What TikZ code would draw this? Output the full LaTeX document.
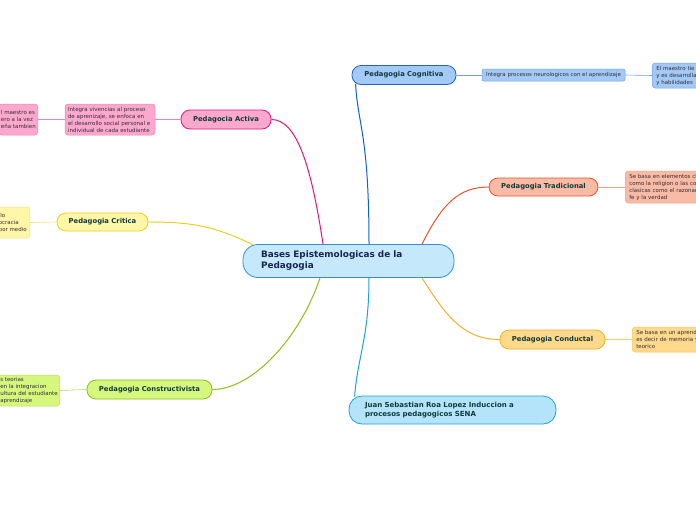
\documentclass[tikz,border=0pt]{standalone}
\usepackage{fontspec}
\setmainfont{DejaVu Sans}
\usetikzlibrary{positioning}
\definecolor{topictext}{RGB}{18,58,58}
\definecolor{leaftext}{RGB}{55,45,50}
\definecolor{ctrfill}{RGB}{197,233,250}
\definecolor{ctrdraw}{RGB}{47,143,216}
\definecolor{ctrtext}{RGB}{26,36,80}
\definecolor{cogfill}{RGB}{163,201,247}
\definecolor{cogdraw}{RGB}{37,98,200}
\definecolor{cogline}{RGB}{16,96,208}
\definecolor{cogleaf}{RGB}{111,160,232}
\definecolor{tradfill}{RGB}{249,187,166}
\definecolor{traddraw}{RGB}{232,82,42}
\definecolor{tradleaf}{RGB}{245,160,128}
\definecolor{condfill}{RGB}{253,217,140}
\definecolor{conddraw}{RGB}{242,177,42}
\definecolor{condleaf}{RGB}{247,200,96}
\definecolor{juanfill}{RGB}{179,228,250}
\definecolor{juandraw}{RGB}{32,160,224}
\definecolor{actfill}{RGB}{251,168,207}
\definecolor{actdraw}{RGB}{226,22,122}
\definecolor{actleaf}{RGB}{245,128,184}
\definecolor{critfill}{RGB}{255,246,168}
\definecolor{critdraw}{RGB}{230,210,28}
\definecolor{critleaf}{RGB}{240,226,122}
\definecolor{consfill}{RGB}{213,247,126}
\definecolor{consdraw}{RGB}{140,190,26}
\definecolor{consleaf}{RGB}{176,220,96}

\begin{document}
\begin{tikzpicture}[x=1pt, y=-1pt,
    topic/.style={draw, line width=0.8pt, rounded corners=9pt, minimum height=19pt, inner xsep=3pt,
        font=\fontsize{6.8}{8}\selectfont\bfseries, text=topictext},
    leaf/.style={draw, line width=0.5pt, rounded corners=3pt, inner xsep=4pt, inner ysep=2pt,
        font=\fontsize{5.5}{7}\selectfont, align=left, text=leaftext},
    link/.style={line width=1pt},
    twig/.style={line width=0.6pt}
]
    \useasboundingbox (0,0) rectangle (696,520);
    \fill[white] (0,0) rectangle (696,520);
    \clip (0,0) rectangle (696,520);

    % main topic
    \node[draw=ctrdraw, fill=ctrfill, line width=0.8pt, rounded corners=15pt, minimum height=33pt,
        text width=175pt, inner xsep=18pt, align=left, text=ctrtext,
        font=\fontsize{8.9}{11}\selectfont\bfseries] (ctr) at (348.5,261)
        {Bases Epistemologicas de la\\Pedagogia};

    % right side
    \node[topic, draw=cogdraw, fill=cogfill, minimum width=104pt] (cog) at (404,75) {Pedagogia Cognitiva};
    \node[leaf, draw=cogleaf, fill=cogfill, minimum width=143pt, minimum height=12pt, rounded corners=2pt,
        inner xsep=2pt, font=\fontsize{5.5}{6}\selectfont] (cogA) at (553.5,75) {Integra procesos neurologicos con el aprendizaje};
    \node[leaf, draw=cogleaf, fill=cogfill, anchor=west, text width=60pt, minimum height=25pt] (cogB) at (652,75.5)
        {El maestro tie\\y es desarrolla\\y habilidades};

    \node[topic, draw=traddraw, fill=tradfill, minimum width=109pt, minimum height=18pt] (trad) at (543.5,187) {Pedagogia Tradicional};
    \node[leaf, draw=tradleaf, fill=tradfill, anchor=west, text width=90pt, minimum height=32pt] (tradA) at (625,187)
        {Se basa en elementos cl\\como la religion o las co\\clasicas como el razonar\\fe y la verdad};

    \node[topic, draw=conddraw, fill=condfill, minimum width=105pt] (cond) at (552.5,339.5) {Pedagogia Conductal};
    \node[leaf, draw=condleaf, fill=condfill, anchor=west, text width=80pt, minimum height=25pt] (condA) at (632,339.5)
        {Se basa en un aprend\\es decir de memoria y\\teorico};

    \node[draw=juandraw, fill=juanfill, line width=0.8pt, rounded corners=13pt, minimum height=28pt,
        text width=175pt, inner xsep=16pt, align=left, text=topictext,
        font=\fontsize{7}{9}\selectfont\bfseries] (juan) at (452.5,410)
        {Juan Sebastian Roa Lopez Induccion a\\procesos pedagogicos SENA};

    % left side
    \node[topic, draw=actdraw, fill=actfill, minimum width=90pt] (act) at (226,119.5) {Pedagocia Activa};
    \node[leaf, draw=actleaf, fill=actfill, text width=84pt, inner xsep=3pt, minimum height=31pt] (actA) at (110,119.5)
        {Integra vivencias al proceso\\de aprenizaje, se enfoca en\\el desarrollo social personal e\\individual de cada estudiante};
    \node[leaf, draw=actleaf, fill=actfill, anchor=east, inner xsep=2pt, minimum height=31pt] (actB) at (38,119.5)
        {l maestro es\\ero a la vez\\eña tambien};

    \node[topic, draw=critdraw, fill=critfill, minimum width=91pt, minimum height=18pt] (crit) at (102.5,222) {Pedagogia Critica};
    \node[leaf, draw=critleaf, fill=critfill, anchor=east, inner xsep=3pt, minimum height=31pt] (critA) at (30,222.5)
        {llo\\ocracia\\por medio};

    \node[topic, draw=consdraw, fill=consfill, minimum width=125pt] (cons) at (149.5,389.5) {Pedagogia Constructivista};
    \node[leaf, draw=consleaf, fill=consfill, anchor=east, inner xsep=2pt, minimum height=31pt] (consA) at (60,390.5)
        {s teorias\\en la integracion\\ultura del estudiante\\aprendizaje};

    % branches
    \draw[link, cogline] ([xshift=20.5pt]ctr.north) .. controls +(0,-110) and +(2,40) .. ([xshift=4pt,yshift=1pt]cog.south west);
    \draw[link, traddraw] ([xshift=73.5pt]ctr.north) .. controls +(20,-40) and +(-30,0) .. (trad.west);
    \draw[link, conddraw] ([xshift=73.5pt]ctr.south) .. controls +(25,40) and +(-35,0) .. (cond.west);
    \draw[link, juandraw] ([xshift=20.5pt]ctr.south) .. controls +(0,60) and +(3,-40) .. ([xshift=6pt,yshift=-1pt]juan.north west);
    \draw[link, actdraw] ([xshift=-25.5pt]ctr.north) .. controls +(-12,-80) and +(25,0) .. (act.east);
    \draw[link, critdraw] ([xshift=-95pt,yshift=-1pt]ctr.north) .. controls +(-40,-20) and +(40,0) .. (crit.east);
    \draw[link, consdraw] ([xshift=-28.5pt]ctr.south) .. controls +(-20,60) and +(40,0) .. (cons.east);

    \draw[twig, cogleaf] (cog.east) -- (cogA.west);
    \draw[twig, cogleaf] (cogA.east) -- (cogB.west);
    \draw[twig, tradleaf] (trad.east) -- (tradA.west);
    \draw[twig, condleaf] (cond.east) -- (condA.west);
    \draw[twig, actleaf] (act.west) -- (actA.east);
    \draw[twig, actleaf] (actA.west) -- (actB.east);
    \draw[twig, critleaf] (crit.west) -- (critA.east);
    \draw[twig, consleaf] (cons.west) -- (consA.east);
\end{tikzpicture}
\end{document}
